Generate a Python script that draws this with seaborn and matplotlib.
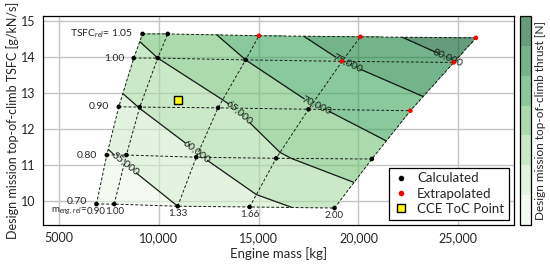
import numpy as np
import pandas as pd
import matplotlib
matplotlib.use("Agg")
import matplotlib.pyplot as plt
import seaborn as sns
from matplotlib.lines import Line2D
from matplotlib.ticker import FuncFormatter

# ===================== data =====================
mass_rel_labels = ["0.90", "1.00", "1.33", "1.66", "2.00"]
tsfc_rel_labels = ["0.70", "0.80", "0.90", "1.00", "1.05"]

# rows = TSFC_rel (0.70 .. 1.05), cols = m_eng,rel (0.90 .. 2.00)
engine_mass = np.array([
    [6880, 7770, 10950, 14550, 18800],
    [7400, 8380, 11880, 15880, 20670],
    [8000, 9050, 12970, 17500, 22600],
    [8750, 9950, 14350, 19180, 24770],
    [9190, 10450, 15020, 20100, 25880],
])
toc_tsfc = np.array([
    [9.91, 9.91, 9.85, 9.83, 9.80],
    [11.27, 11.27, 11.21, 11.18, 11.16],
    [12.61, 12.60, 12.58, 12.54, 12.50],
    [13.96, 13.96, 13.91, 13.87, 13.84],
    [14.63, 14.63, 14.58, 14.55, 14.52],
])
toc_thrust = np.array([
    [50300, 51100, 55000, 58500, 61500],
    [54500, 55800, 59600, 64400, 68200],
    [58700, 60100, 64000, 69400, 73000],
    [63500, 65000, 70000, 75000, 79800],
    [65700, 67200, 72400, 78300, 83000],
])
extrapolated = np.array([
    [0, 0, 0, 0, 0],
    [0, 0, 0, 0, 0],
    [0, 0, 0, 0, 1],
    [0, 0, 0, 1, 1],
    [0, 0, 1, 1, 1],
], dtype=bool)

cce_mass = [10980]
cce_tsfc = [12.80]

fill_levels = [50000, 55000, 60000, 65000, 70000, 75000, 80000, 85000]
line_levels = [55000, 60000, 65000, 70000, 75000, 80000]
label_pos = [(8150, 10.90), (12050, 11.49), (14300, 12.60),
             (18050, 12.88), (19550, 13.91), (24400, 13.85)]

# ===================== style =====================
sns.set_theme(style="whitegrid")
plt.rcParams['font.family'] = ['Lato', 'DejaVu Sans']
plt.rcParams['mathtext.fontset'] = 'custom'
plt.rcParams['mathtext.rm'] = 'Lato'
plt.rcParams['mathtext.it'] = 'Lato:italic'
plt.rcParams['axes.unicode_minus'] = False

fig = plt.figure(figsize=(5.5, 2.65), dpi=100)
ax = fig.add_axes([0.078, 0.151, 0.857, 0.789])
cax = fig.add_axes([0.946, 0.151, 0.02, 0.789])

ax.set_axisbelow(True)
ax.grid(True, color='#c4c4c4', lw=1.0)
for s in ax.spines.values():
    s.set_color('black')
    s.set_linewidth(0.9)

# ===================== contour field =====================
cf = ax.contourf(engine_mass, toc_tsfc, toc_thrust, levels=fill_levels,
                 cmap='Greens', alpha=0.6, zorder=1)
cs = ax.contour(engine_mass, toc_tsfc, toc_thrust, levels=line_levels,
                colors='k', linewidths=0.9, zorder=2)
ax.clabel(cs, fmt=lambda v: f"{v:,.0f}", fontsize=7.5, manual=label_pos,
          inline=True, inline_spacing=1)

# dashed design grid
dash = (0, (3, 2))
for i in range(engine_mass.shape[0]):
    ax.plot(engine_mass[i], toc_tsfc[i], ls=dash, color='k', lw=0.7, zorder=3)
for j in range(engine_mass.shape[1]):
    ax.plot(engine_mass[:, j], toc_tsfc[:, j], ls=dash, color='k', lw=0.7, zorder=3)

# points
df = pd.DataFrame({
    "mass": engine_mass.ravel(),
    "tsfc": toc_tsfc.ravel(),
    "status": np.where(extrapolated.ravel(), "Extrapolated", "Calculated"),
})
sns.scatterplot(data=df, x="mass", y="tsfc", hue="status",
                palette={"Calculated": "black", "Extrapolated": "red"},
                s=11, edgecolor='none', legend=False, ax=ax, zorder=5)
sns.scatterplot(x=cce_mass, y=cce_tsfc, marker='s', s=32, color='#ffff00',
                edgecolor='black', linewidth=1, ax=ax, zorder=6)

# row / column labels
for i, lab in enumerate(tsfc_rel_labels):
    txt = lab if lab != "1.05" else "TSFC$_{rel}$= 1.05"
    dy = 1.5 if i == 0 else 0
    ax.annotate(txt, (engine_mass[i, 0], toc_tsfc[i, 0]), xytext=(-7, dy),
                textcoords='offset points', ha='right', va='center', fontsize=7.5)
for j, lab in enumerate(mass_rel_labels):
    ax.annotate(lab, (engine_mass[0, j], toc_tsfc[0, j]), xytext=(0, -5.5),
                textcoords='offset points', ha='center', va='center', fontsize=7)
ax.annotate("m$_{eng,\\,rel}$=", (engine_mass[0, 0], toc_tsfc[0, 0]), xytext=(-6.5, -5.5),
            textcoords='offset points', ha='right', va='center', fontsize=7)

# axes
ax.set_xlim(4200, 27800)
ax.set_ylim(9.33, 15.13)
ax.set_xticks([5000, 10000, 15000, 20000, 25000])
ax.set_yticks([10, 11, 12, 13, 14, 15])
ax.xaxis.set_major_formatter(FuncFormatter(lambda v, p: f"{v:,.0f}" if v >= 10000 else f"{v:.0f}"))
ax.tick_params(axis='both', labelsize=9, length=3, width=0.8, color='black', pad=2)
ax.set_xlabel("Engine mass [kg]", fontsize=9.5, labelpad=2)
ax.set_ylabel("Design mission top-of-climb TSFC [g/kN/s]", fontsize=9, labelpad=2)

# legend
handles = [
    Line2D([], [], ls='none', marker='o', ms=3, color='black'),
    Line2D([], [], ls='none', marker='o', ms=3, color='red'),
    Line2D([], [], ls='none', marker='s', ms=6, mfc='#ffff00', mec='black', mew=1),
]
leg = ax.legend(handles, ["Calculated", "Extrapolated", "CCE ToC Point"],
                loc='lower right', fontsize=9.5, frameon=True, fancybox=False,
                framealpha=1, edgecolor='black', handlelength=1.2,
                handletextpad=0.6, borderaxespad=0.4, labelspacing=0.25,
                borderpad=0.35)
leg.get_frame().set_linewidth(0.9)

# colorbar
cbar = fig.colorbar(cf, cax=cax)
cbar.set_ticks([])
cbar.outline.set_edgecolor('black')
cbar.outline.set_linewidth(0.9)
cbar.set_label("Design mission top-of-climb thrust [N]", fontsize=8.5, labelpad=3)

fig.savefig("out.png", dpi=100)
